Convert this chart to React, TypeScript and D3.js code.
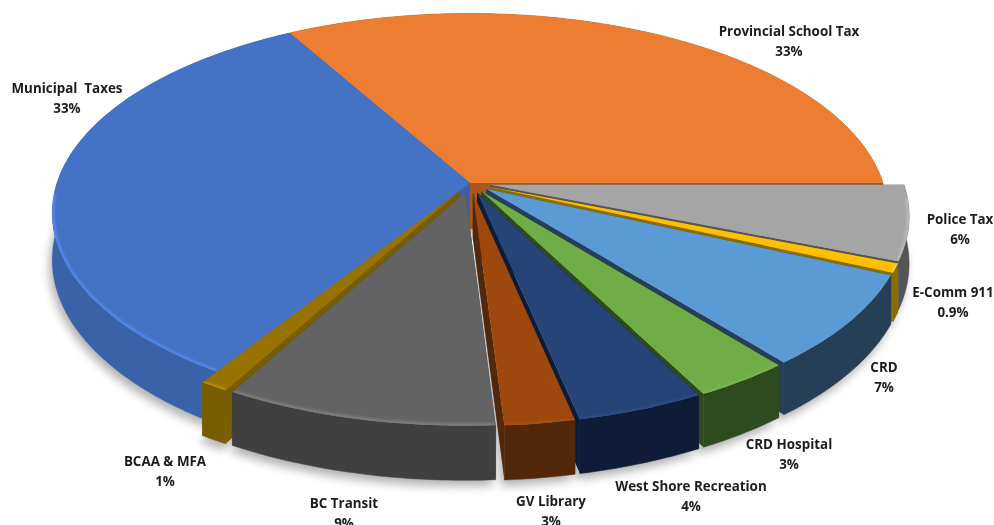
import React from "react";
import * as d3 from "d3";

const categories = ["Provincial School Tax","Police Tax","E-Comm 911","CRD","CRD Hospital","West Shore Recreation","GV Library","BC Transit","BCAA & MFA","Municipal  Taxes"];
const shares = [33.2, 6.03, 0.72, 7.44, 3.22, 4.25, 2.33, 9.06, 0.95, 32.76];
const shareLabels = ["33%","6%","0.9%","7%","3%","4%","3%","9%","1%","33%"];
const explode = [0, 0.05, 0.05, 0.05, 0.05, 0.05, 0.05, 0.05, 0.05, 0];
const topColors = ["#ED7D31","#A5A5A5","#FFC000","#5B9BD5","#70AD47","#264478","#9E480E","#636363","#997300","#4472C4"];
const wallColors = ["#A85820","#555555","#8C6C00","#243F56","#2E4A1F","#0E1C38","#52270A","#404040","#785C00","#3A62A8"];
const bevelColors = ["#ED7D31","#B8B8B8","#FFD040","#5B9BD5","#78B54D","#2A4C84","#A64E12","#7C7C7C","#B08A10","#5088E8"];
const labelX = [789,960,953,884,789,691,551,344,165,67];
const labelY = [36,224,297,372,449,491,506,508,466,93];

const W = 994, H = 525;
const CX = 470, CY = 183, RX = 413, RY = 195, K = 0.15, DEPTH = 46;
const START = (-29.6 * Math.PI) / 180;

type P = [number, number];
const project = (u: number, v: number, z: number): P => {
  const w = 1 - K * v;
  return [CX + (RX * u) / w, CY + (RY * v) / w + (DEPTH * z) / w];
};

const line = d3.line<P>().x(d => d[0]).y(d => d[1]);
const arcs = d3.pie<number>().sort(null).startAngle(START).endAngle(START + 2 * Math.PI)(shares);

const slices = arcs.map((a, i) => {
  const mid = (a.startAngle + a.endAngle) / 2;
  const ox = Math.sin(mid) * explode[i];
  const oy = -Math.cos(mid) * explode[i];
  const n = Math.max(3, Math.ceil((a.endAngle - a.startAngle) * 60));
  const angles = d3.range(n + 1).map(j => a.startAngle + ((a.endAngle - a.startAngle) * j) / n);
  const rim = (z: number) => angles.map(t => project(Math.sin(t) + ox, -Math.cos(t) + oy, z));
  const tip = (z: number) => project(ox, oy, z);
  const topArc = rim(0), botArc = rim(1);
  const top = line([tip(0), ...topArc])! + "Z";
  const bottom = line([tip(1), ...botArc])! + "Z";
  const wall = line([...topArc, ...botArc.slice().reverse()])! + "Z";
  const cutStart = line([tip(0), topArc[0], botArc[0], tip(1)])! + "Z";
  const cutEnd = line([tip(0), topArc[n], botArc[n], tip(1)])! + "Z";
  const bevel = line(topArc.filter((_, j) => -Math.cos(angles[j]) > 0.05)) || "";
  return { i, order: -Math.cos(mid), top, bottom, wall, cutStart, cutEnd, bevel };
});
const ordered = slices.slice().sort((a, b) => a.order - b.order);

export default function App() {
  return (
    <svg width={W} height={H} viewBox={`0 0 ${W} ${H}`} style={{ position: "fixed", left: 0, top: 0, display: "block", background: "#fff" }}>
      <defs>
        <filter id="shadow" x="-10%" y="-10%" width="120%" height="120%"><feGaussianBlur stdDeviation="5" /></filter>
        <filter id="soft" x="-5%" y="-5%" width="110%" height="110%"><feGaussianBlur stdDeviation="1" /></filter>
        <filter id="text" x="-5%" y="-20%" width="110%" height="140%"><feGaussianBlur stdDeviation="0.25" /></filter>
        {slices.map(s => (
          <clipPath id={`clip-${s.i}`} key={s.i}><path d={s.top} /></clipPath>
        ))}
      </defs>
      <g filter="url(#shadow)" transform="translate(-3,6)" opacity={0.3}>
        {slices.map(s => <path key={s.i} d={s.bottom} fill="#000" />)}
      </g>
      {ordered.map(s => (
        <g key={s.i}>
          <path d={s.cutStart} fill={wallColors[s.i]} />
          <path d={s.cutEnd} fill={wallColors[s.i]} />
          <path d={s.wall} fill={wallColors[s.i]} stroke={wallColors[s.i]} strokeWidth={0.5} />
          <path d={s.top} fill={topColors[s.i]} />
          <g clipPath={`url(#clip-${s.i})`}>
            <path d={s.bevel} fill="none" stroke={bevelColors[s.i]} strokeWidth={5} filter="url(#soft)" />
          </g>
        </g>
      ))}
      <g fontFamily="'Open Sans', sans-serif" fontWeight={700} fontSize={13.4} fill="#1c1c1c" textAnchor="middle" filter="url(#text)">
        {categories.map((c, i) => (
          <text key={c} x={labelX[i]} y={labelY[i]} style={{ whiteSpace: "pre" }}>
            <tspan x={labelX[i]}>{c}</tspan>
            <tspan x={labelX[i]} dy={19.5}>{shareLabels[i]}</tspan>
          </text>
        ))}
      </g>
    </svg>
  );
}
